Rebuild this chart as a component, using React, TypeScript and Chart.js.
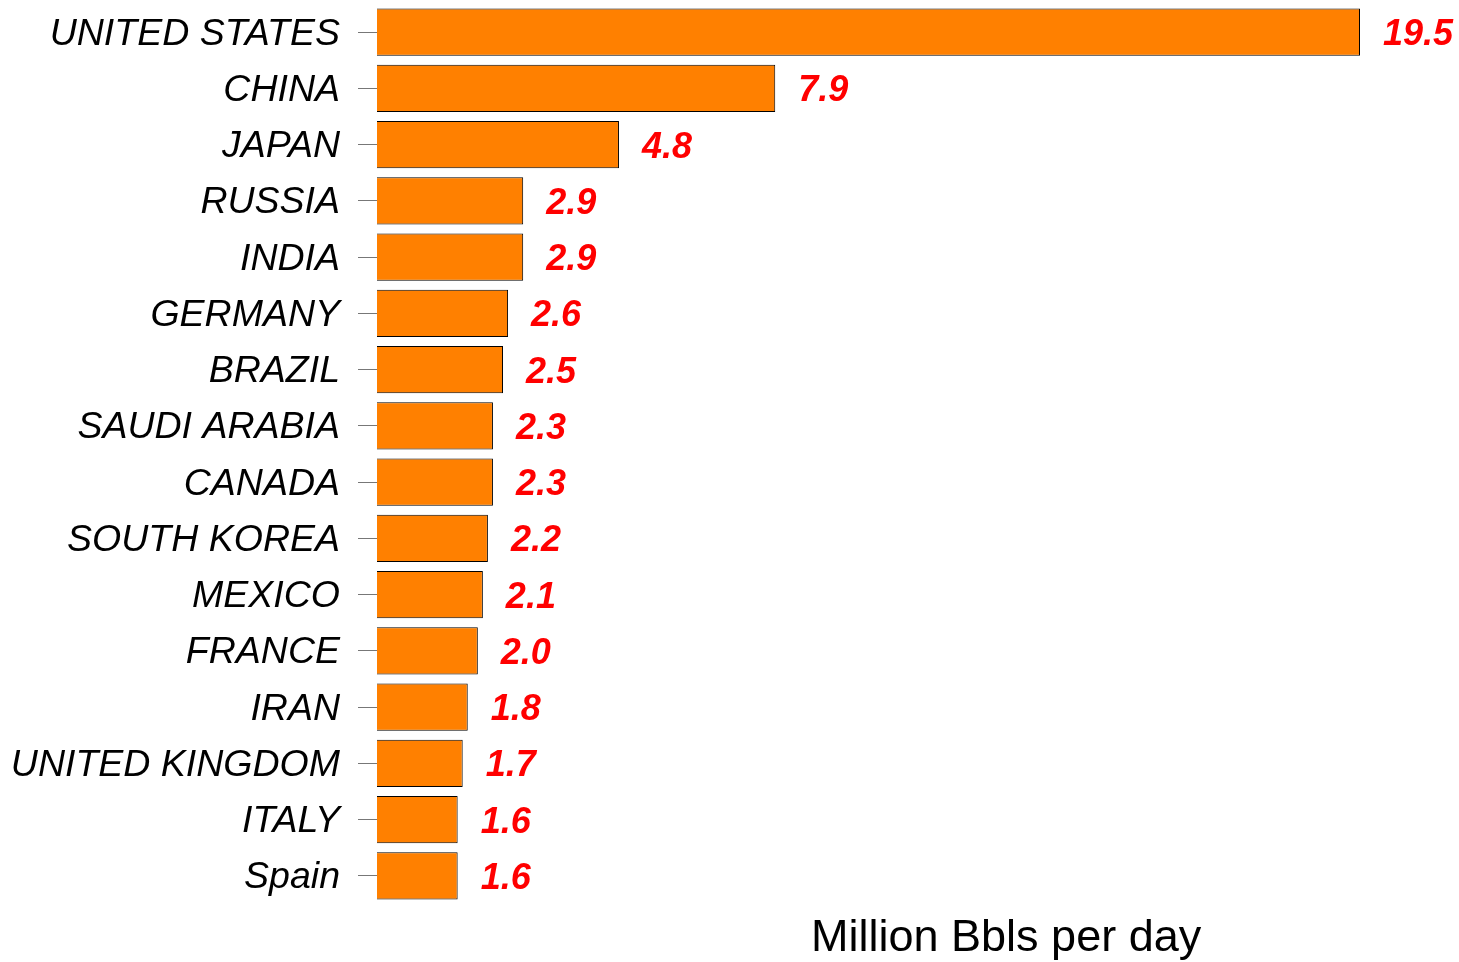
import React, { useEffect, useRef } from "react";
import { Chart, registerables } from "chart.js";

Chart.register(...registerables);

const countries = [
  "UNITED STATES", "CHINA", "JAPAN", "RUSSIA", "INDIA", "GERMANY", "BRAZIL",
  "SAUDI ARABIA", "CANADA", "SOUTH KOREA", "MEXICO", "FRANCE", "IRAN",
  "UNITED KINGDOM", "ITALY", "Spain",
];
const consumption = [19.5, 7.9, 4.8, 2.9, 2.9, 2.6, 2.5, 2.3, 2.3, 2.2, 2.1, 2.0, 1.8, 1.7, 1.6, 1.6];
const valueLabels = consumption.map((v) => v.toFixed(1));
const axisTitle = "Million Bbls per day";

const FONT = "'Liberation Sans', Arial, Helvetica, sans-serif";

const valueLabelPlugin = {
  id: "valueLabels",
  afterDatasetsDraw(chart: any) {
    const ctx = chart.ctx;
    const meta = chart.getDatasetMeta(0);
    ctx.save();
    ctx.fillStyle = "#FF0000";
    ctx.font = `italic bold 36px ${FONT}`;
    ctx.textAlign = "left";
    ctx.textBaseline = "middle";
    meta.data.forEach((bar: any, i: number) => {
      ctx.fillText(valueLabels[i], bar.x + 23, bar.y + 3);
    });
    ctx.restore();
  },
};

const axisTitlePlugin = {
  id: "axisTitleOffset",
  afterDraw(chart: any) {
    const { ctx, chartArea } = chart;
    ctx.save();
    ctx.fillStyle = "#000";
    ctx.font = `45px ${FONT}`;
    ctx.textAlign = "center";
    ctx.textBaseline = "middle";
    const x = chartArea.left + (chartArea.right - chartArea.left) * 0.64;
    ctx.fillText(axisTitle, x, chartArea.bottom + 35);
    ctx.restore();
  },
};

export default function App() {
  const ref = useRef<HTMLCanvasElement | null>(null);
  useEffect(() => {
    if (!ref.current) return;
    const chart = new Chart(ref.current, {
      type: "bar",
      data: {
        labels: countries,
        datasets: [
          {
            data: consumption,
            backgroundColor: "#FF8000",
            borderColor: "#000",
            borderWidth: 1,
            barPercentage: 0.84,
            categoryPercentage: 1,
          },
        ],
      },
      options: {
        indexAxis: "y",
        animation: false,
        responsive: false,
        maintainAspectRatio: false,
        layout: { padding: { top: 4, right: 99, bottom: 58, left: 0 } },
        plugins: {
          legend: { display: false },
          tooltip: { enabled: false },
          title: { display: false },
        },
        scales: {
          x: {
            min: 0,
            max: 19.5,
            display: false,
          },
          y: {
            offset: true,
            border: { display: false },
            grid: {
              offset: false,
              drawOnChartArea: false,
              drawTicks: true,
              tickLength: 19,
              color: "#777",
              lineWidth: 1,
            },
            ticks: {
              color: "#000",
              padding: 18,
              labelOffset: 2,
              font: { family: FONT, size: 37.5, style: "italic" },
            },
            afterFit(scale: any) {
              scale.width = 377;
              scale.paddingTop = 0;
              scale.paddingBottom = 0;
            },
          },
        },
      },
      plugins: [valueLabelPlugin, axisTitlePlugin],
    });
    return () => chart.destroy();
  }, []);
  return (
    <div style={{ position: "absolute", left: 0, top: 0, width: 1459, height: 962, background: "#fff" }}>
      <canvas ref={ref} width={1459} height={962} style={{ display: "block" }} />
    </div>
  );
}
